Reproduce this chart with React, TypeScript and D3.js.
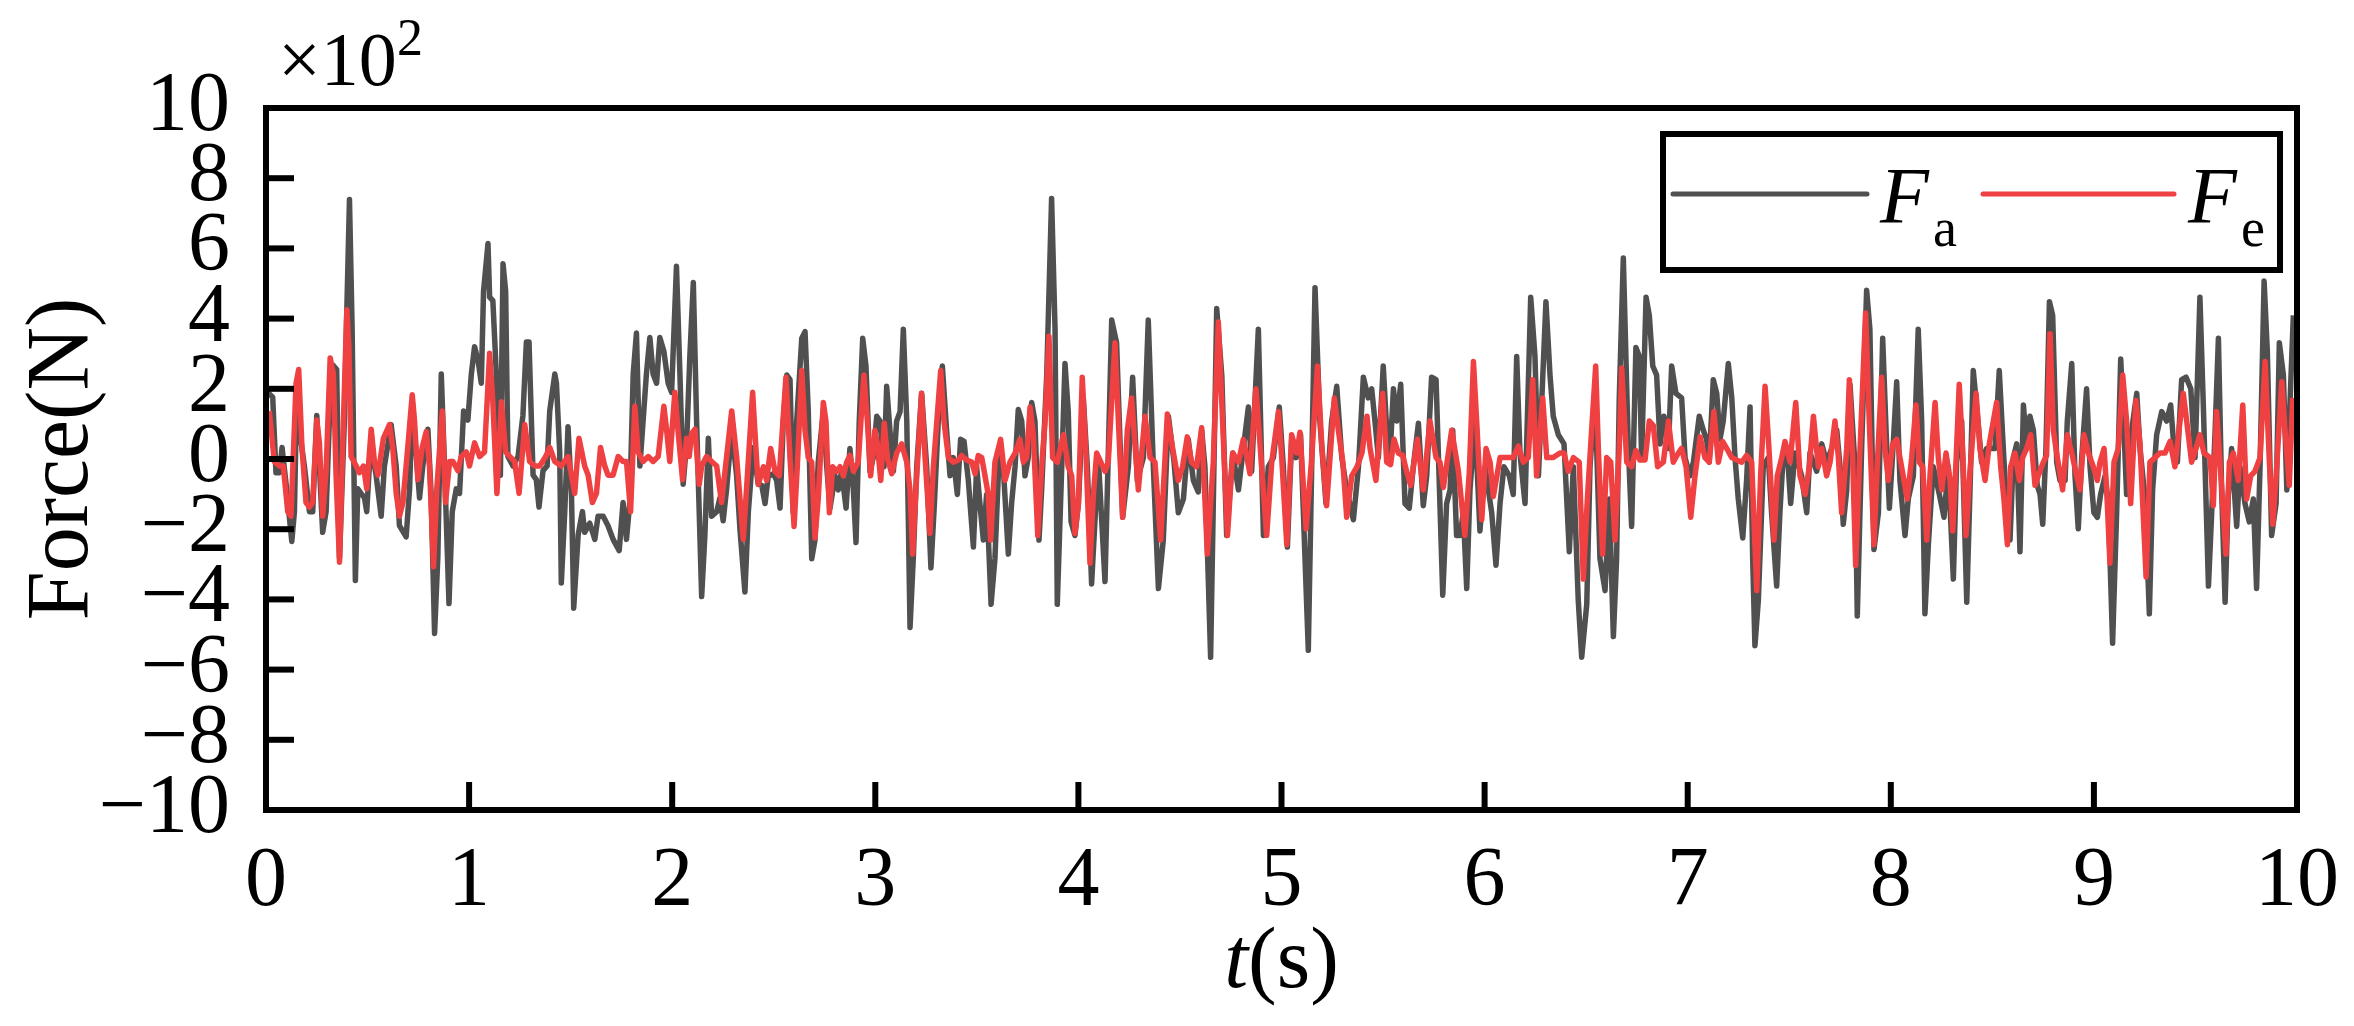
import React from "react";
import * as d3 from "d3";

// time (s), force (x10^2 N) at the turning points
const faData: [number, number][] = [
  [0.008, 1.9], [0.033, 1.76], [0.049, -0.39], [0.066, -0.39], [0.079, 0.33], [0.099, -0.72], [0.127, -2.35], [0.14, -1.5],
  [0.151, 1.76], [0.164, 0.85], [0.189, -0.2], [0.214, -1.5], [0.23, -1.5], [0.25, 1.24], [0.263, -0.2], [0.279, -2.09],
  [0.296, -1.5], [0.312, 1.11], [0.329, 2.68], [0.348, 2.55], [0.362, -2.81], [0.386, 1.11], [0.398, 4.25], [0.411, 7.39],
  [0.424, 3.73], [0.44, -3.46], [0.452, -0.85], [0.468, -0.98], [0.485, -1.11], [0.496, -1.5], [0.509, -0.2], [0.526, 0.07],
  [0.542, -0.46], [0.567, -1.63], [0.583, -0.2], [0.616, 0.98], [0.641, -0.2], [0.657, -1.9], [0.69, -2.22], [0.707, -0.85],
  [0.72, 1.63], [0.74, 0.07], [0.756, -1.11], [0.772, -0.2], [0.797, 0.85], [0.813, -0.98], [0.83, -4.97], [0.846, -2.81],
  [0.863, 2.42], [0.879, -0.2], [0.901, -4.12], [0.917, -1.5], [0.937, -0.85], [0.953, -0.98], [0.973, 1.37], [0.994, 1.11],
  [1.011, 2.42], [1.027, 3.2], [1.044, 2.81], [1.06, 2.16], [1.071, 4.77], [1.093, 6.14], [1.101, 4.61], [1.117, 4.51],
  [1.134, 2.42], [1.154, -0.46], [1.167, 5.56], [1.18, 4.77], [1.191, 0.07], [1.216, -0.2], [1.241, 0.07], [1.265, 1.24],
  [1.282, 3.33], [1.295, 3.33], [1.315, -0.46], [1.331, -0.59], [1.344, -1.37], [1.364, -0.33], [1.384, -0.2], [1.397, 1.37],
  [1.422, 2.42], [1.43, 2.16], [1.446, 0.2], [1.454, -3.53], [1.471, -1.5], [1.487, 0.92], [1.504, -0.98], [1.515, -4.25],
  [1.537, -2.16], [1.558, -1.5], [1.569, -2.09], [1.594, -1.83], [1.619, -2.29], [1.635, -1.63], [1.66, -1.63], [1.684, -1.9],
  [1.709, -2.29], [1.739, -2.61], [1.758, -1.24], [1.775, -2.29], [1.791, -1.24], [1.808, 2.42], [1.824, 3.59], [1.841, -0.2],
  [1.873, 2.42], [1.89, 3.46], [1.906, 2.42], [1.923, 2.16], [1.939, 3.46], [1.959, 3.07], [1.98, 2.16], [1.997, 1.9],
  [2.021, 5.49], [2.038, 2.42], [2.054, -0.72], [2.071, 0.46], [2.087, 2.94], [2.104, 5.03], [2.12, 1.11], [2.145, -3.92],
  [2.161, -2.16], [2.178, 0.59], [2.194, -1.63], [2.219, -1.5], [2.235, -1.11], [2.251, -1.76], [2.268, -0.85], [2.293, 0.85],
  [2.317, -0.46], [2.334, -2.03], [2.358, -3.79], [2.375, -1.5], [2.399, 0.33], [2.424, -0.72], [2.441, -0.75], [2.457, -1.27],
  [2.473, -0.48], [2.498, -0.42], [2.514, -0.61], [2.531, -1.4], [2.547, 1.08], [2.564, 2.39], [2.58, 2.26], [2.596, -1.53],
  [2.613, 1.08], [2.638, 3.44], [2.654, 3.63], [2.67, 1.35], [2.687, -2.84], [2.703, -2.31], [2.719, -0.09], [2.744, 1.35],
  [2.761, -0.22], [2.777, -1.4], [2.802, -0.48], [2.818, -0.88], [2.834, -0.35], [2.856, -1.4], [2.875, 0.3], [2.892, -0.88],
  [2.905, -2.38], [2.921, 1.08], [2.938, 3.44], [2.954, 2.65], [2.974, -0.35], [2.99, 0.04], [3.007, 1.22], [3.023, 1.08],
  [3.043, -0.22], [3.056, 2.07], [3.072, 0.82], [3.089, -0.35], [3.105, 1.08], [3.122, 1.35], [3.138, 3.7], [3.155, 1.08],
  [3.171, -4.8], [3.187, -2.84], [3.204, -0.22], [3.228, 1.87], [3.253, -0.22], [3.274, -3.1], [3.291, -1.27], [3.31, 1.08],
  [3.33, 2.65], [3.351, 0.82], [3.368, -0.48], [3.384, 0.04], [3.404, -1.01], [3.42, 0.56], [3.437, 0.5], [3.458, -0.61],
  [3.483, -2.51], [3.499, -0.22], [3.515, -1.27], [3.532, -2.31], [3.548, -1.01], [3.57, -4.14], [3.589, -2.84], [3.611, 0.3],
  [3.63, -0.22], [3.655, -2.71], [3.671, -1.27], [3.688, -0.22], [3.704, 1.41], [3.721, 1.08], [3.737, -0.48], [3.753, 0.04],
  [3.77, 1.61], [3.786, 1.08], [3.806, -2.31], [3.819, -0.88], [3.844, 2.39], [3.868, 7.42], [3.885, 3.7], [3.896, -4.14],
  [3.918, -0.22], [3.934, 2.72], [3.95, 1.35], [3.964, -1.79], [3.983, -2.18], [4.0, -1.27], [4.024, 1.74], [4.044, -0.22],
  [4.065, -3.56], [4.098, 0.04], [4.131, -3.49], [4.164, 3.96], [4.188, 3.31], [4.218, -1.66], [4.246, -0.22], [4.267, 2.33],
  [4.29, -0.61], [4.32, 0.04], [4.344, 3.96], [4.369, -0.22], [4.394, -3.69], [4.418, -2.31], [4.443, 1.22], [4.471, -0.09],
  [4.492, -1.53], [4.517, -1.14], [4.541, 0.56], [4.566, -0.61], [4.59, -0.94], [4.607, 0.82], [4.623, -0.22], [4.651, -5.65],
  [4.681, 4.29], [4.706, 2.39], [4.73, -2.18], [4.76, 0.17], [4.788, -0.88], [4.812, 0.3], [4.837, 1.48], [4.853, -0.35],
  [4.886, 3.7], [4.911, -2.18], [4.935, -0.22], [4.96, 0.04], [4.989, 1.48], [5.009, -0.22], [5.029, -2.51], [5.05, 0.56],
  [5.071, 0.04], [5.094, 0.69], [5.132, -5.45], [5.165, 4.88], [5.189, 1.08], [5.219, -1.27], [5.247, 1.08], [5.272, 2.07],
  [5.297, 0.04], [5.321, -0.88], [5.354, -1.73], [5.379, -0.22], [5.403, 2.33], [5.427, 1.74], [5.444, 2.0], [5.46, 1.08],
  [5.477, 0.04], [5.501, 2.65], [5.518, 0.82], [5.534, 0.04], [5.551, 2.0], [5.567, 1.08], [5.587, 2.13], [5.608, -1.27],
  [5.629, -1.4], [5.649, -0.22], [5.674, 1.02], [5.698, -1.33], [5.715, -0.48], [5.739, 2.33], [5.761, 2.26], [5.794, -3.88],
  [5.813, -1.27], [5.83, -0.88], [5.843, 0.82], [5.862, -2.18], [5.879, -2.18], [5.895, -1.53], [5.912, -3.69], [5.928, -0.88],
  [5.953, 1.08], [5.977, -2.05], [6.002, -0.22], [6.035, -1.53], [6.056, -3.03], [6.076, -1.27], [6.095, -0.22], [6.122, -0.48],
  [6.141, -1.01], [6.158, 2.92], [6.174, 0.17], [6.199, -1.27], [6.227, 4.61], [6.248, 2.92], [6.265, -0.48], [6.281, 1.61],
  [6.302, 4.48], [6.322, 2.39], [6.338, 1.22], [6.363, 0.69], [6.391, 0.43], [6.417, -2.64], [6.437, -0.22], [6.461, -4.01],
  [6.478, -5.65], [6.503, -4.14], [6.519, -0.22], [6.544, 1.87], [6.568, -2.84], [6.593, -3.75], [6.614, -1.14], [6.634, -5.06],
  [6.65, -2.84], [6.663, 1.74], [6.683, 5.73], [6.707, 0.43], [6.724, -1.92], [6.745, 3.18], [6.762, 2.92], [6.773, 0.04],
  [6.795, 4.61], [6.811, 4.09], [6.828, 2.65], [6.847, 2.39], [6.864, 0.43], [6.883, 1.22], [6.905, 0.3], [6.921, 2.65],
  [6.942, 1.87], [6.97, 1.74], [6.987, 0.04], [7.011, -0.48], [7.028, -0.09], [7.057, 1.22], [7.077, 0.82], [7.093, 0.56],
  [7.106, -0.09], [7.126, 2.26], [7.143, 1.87], [7.159, 0.56], [7.175, 1.08], [7.2, 2.72], [7.217, 1.74], [7.233, 0.04],
  [7.249, -1.14], [7.271, -2.25], [7.29, -0.61], [7.307, 1.48], [7.32, -2.84], [7.331, -5.32], [7.348, -4.01], [7.372, -0.22],
  [7.397, 0.04], [7.413, -1.53], [7.438, -3.62], [7.454, -1.53], [7.471, 0.17], [7.495, -0.22], [7.507, -1.27], [7.528, 0.17],
  [7.561, -0.48], [7.586, -1.53], [7.602, 0.17], [7.635, -0.35], [7.66, 0.43], [7.684, -0.09], [7.709, 0.3], [7.734, 0.82],
  [7.75, -0.22], [7.766, -1.86], [7.783, -0.88], [7.799, 2.13], [7.824, -0.22], [7.835, -4.47], [7.857, 0.43], [7.881, 4.81],
  [7.897, 3.7], [7.917, -2.58], [7.939, -1.53], [7.96, 3.44], [7.98, 0.3], [7.993, -1.4], [8.012, 0.43], [8.029, 2.2],
  [8.045, -0.61], [8.07, -2.18], [8.086, -1.14], [8.111, -0.48], [8.135, 3.7], [8.152, 1.08], [8.168, -4.41], [8.185, -2.44],
  [8.209, -0.22], [8.239, -1.01], [8.262, -1.66], [8.283, -0.22], [8.308, -3.42], [8.324, -0.09], [8.349, 1.08], [8.374, -4.08],
  [8.39, -0.88], [8.406, 2.52], [8.423, 1.48], [8.447, -0.09], [8.472, 0.3], [8.513, 0.3], [8.534, 2.52], [8.554, 0.3],
  [8.571, -1.53], [8.587, -2.31], [8.603, 0.04], [8.62, 0.43], [8.636, -2.64], [8.653, 1.54], [8.669, 0.3], [8.685, 1.22],
  [8.702, 0.82], [8.721, -0.75], [8.735, -1.01], [8.748, -1.86], [8.764, 0.3], [8.781, 4.48], [8.797, 4.09], [8.817, -0.09],
  [8.833, -0.61], [8.858, -0.61], [8.869, 1.08], [8.891, 2.72], [8.907, -0.48], [8.923, -1.99], [8.94, 0.04], [8.964, 2.0],
  [8.981, -0.22], [9.0, -1.53], [9.017, -1.66], [9.033, -1.01], [9.055, -0.48], [9.071, -1.27], [9.092, -5.25], [9.112, -1.53],
  [9.132, 2.85], [9.145, 1.22], [9.161, -1.01], [9.186, 0.82], [9.211, 1.87], [9.227, 0.3], [9.252, -1.14], [9.273, -4.41],
  [9.289, -0.88], [9.309, 0.69], [9.334, 1.35], [9.358, 1.08], [9.378, 1.54], [9.391, 0.56], [9.411, -0.09], [9.432, 2.26],
  [9.454, 2.33], [9.477, 2.0], [9.498, 0.04], [9.522, 4.61], [9.539, 1.48], [9.564, -3.62], [9.58, -1.53], [9.597, 0.82],
  [9.613, 3.44], [9.629, -0.88], [9.646, -4.08], [9.662, -1.01], [9.678, 0.3], [9.703, -1.92], [9.719, -0.22], [9.744, -1.27],
  [9.765, -1.79], [9.785, -1.14], [9.801, -3.69], [9.818, -0.22], [9.838, 5.07], [9.854, 3.05], [9.875, -2.18], [9.897, -1.27],
  [9.913, 3.31], [9.933, 2.39], [9.95, -0.88], [9.969, 2.13], [9.982, 4.09],
];

const feData: [number, number][] = [
  [0.016, 1.37], [0.041, -0.07], [0.066, -0.2], [0.085, -0.2], [0.107, -1.5], [0.123, -1.63], [0.148, 2.16], [0.161, 2.55],
  [0.177, 0.33], [0.197, -1.24], [0.214, -1.37], [0.23, -1.24], [0.25, 1.11], [0.263, 0.46], [0.279, -1.63], [0.296, -0.33],
  [0.316, 2.88], [0.332, 2.42], [0.345, -0.46], [0.362, -2.94], [0.378, 0.46], [0.398, 4.25], [0.408, 3.2], [0.419, 0.07],
  [0.444, -0.2], [0.46, -0.39], [0.48, -0.2], [0.496, -0.85], [0.518, 0.85], [0.534, -0.07], [0.551, -0.46], [0.578, 0.59],
  [0.608, 0.98], [0.624, 0.33], [0.641, -0.98], [0.657, -1.63], [0.674, -1.24], [0.698, 0.33], [0.72, 1.83], [0.731, 1.11],
  [0.748, -0.59], [0.769, 0.33], [0.789, 0.78], [0.805, -0.2], [0.825, -3.07], [0.841, -0.85], [0.868, 1.37], [0.884, -1.24],
  [0.904, -0.07], [0.92, -0.07], [0.945, -0.33], [0.961, 0.07], [0.986, 0.2], [1.002, -0.2], [1.027, 0.46], [1.052, 0.07],
  [1.076, 0.2], [1.101, 3.01], [1.117, 1.63], [1.137, -0.98], [1.159, 1.63], [1.18, 0.2], [1.2, 0.07], [1.224, -0.07],
  [1.246, -0.98], [1.274, 0.98], [1.298, -0.07], [1.323, -0.2], [1.348, -0.2], [1.377, 0.07], [1.397, 0.33], [1.422, -0.07],
  [1.454, -0.2], [1.487, 0.07], [1.52, -0.98], [1.541, 0.59], [1.569, -0.2], [1.586, -0.46], [1.607, -1.24], [1.627, -0.98],
  [1.647, 0.33], [1.668, -0.2], [1.684, -0.46], [1.709, -0.46], [1.734, 0.07], [1.758, -0.07], [1.775, -0.07], [1.795, -1.5],
  [1.816, 1.5], [1.832, 0.2], [1.857, -0.07], [1.882, 0.07], [1.906, -0.07], [1.931, 0.07], [1.959, 1.5], [1.972, 0.85],
  [1.988, -0.07], [2.013, 1.9], [2.03, 0.72], [2.051, -0.59], [2.071, 0.59], [2.084, 0.07], [2.095, 0.72], [2.112, 0.85],
  [2.133, -0.72], [2.145, -0.2], [2.169, 0.07], [2.194, -0.07], [2.219, -0.2], [2.243, -1.24], [2.268, 0.07], [2.293, 1.37],
  [2.317, 0.07], [2.35, -2.29], [2.366, -0.85], [2.396, 1.9], [2.416, -0.07], [2.424, -0.72], [2.449, -0.22], [2.465, -0.61],
  [2.485, 0.3], [2.506, -0.35], [2.527, -0.48], [2.56, 2.33], [2.58, 0.04], [2.6, -1.92], [2.616, -0.22], [2.638, 2.52],
  [2.654, 0.82], [2.67, 0.04], [2.687, -0.09], [2.703, -2.25], [2.719, -1.14], [2.744, 1.61], [2.757, 1.08], [2.774, -1.53],
  [2.79, -0.22], [2.81, -0.35], [2.826, -0.22], [2.843, -0.48], [2.859, -0.09], [2.875, 0.1], [2.892, -0.35], [2.916, -0.09],
  [2.944, 2.39], [2.961, 1.08], [2.977, -0.48], [2.998, 0.82], [3.01, 0.43], [3.027, -0.61], [3.044, 1.02], [3.059, 0.04],
  [3.081, -0.42], [3.105, 0.17], [3.13, 0.43], [3.155, -0.09], [3.171, -0.88], [3.184, -2.71], [3.2, -0.88], [3.228, 1.87],
  [3.245, 0.04], [3.269, -2.12], [3.286, -0.22], [3.322, 2.52], [3.338, 1.08], [3.36, 0.04], [3.384, -0.09], [3.409, -0.03],
  [3.425, 0.1], [3.45, -0.03], [3.475, -0.09], [3.491, -0.42], [3.507, 0.1], [3.524, 0.04], [3.54, -0.48], [3.556, -1.01],
  [3.568, -2.31], [3.589, -0.09], [3.617, 0.56], [3.639, -0.61], [3.663, -0.09], [3.688, 0.17], [3.712, 0.56], [3.729, -0.09],
  [3.745, 0.04], [3.762, 1.48], [3.778, 0.69], [3.8, -2.18], [3.819, -0.22], [3.836, 1.08], [3.855, 3.5], [3.873, 0.04],
  [3.896, -0.09], [3.926, 0.69], [3.95, -0.22], [3.967, -0.48], [3.983, -2.12], [4.0, -1.27], [4.019, 2.33], [4.038, 0.04],
  [4.057, -2.97], [4.074, -1.01], [4.09, 0.17], [4.131, -0.35], [4.147, -0.09], [4.18, 3.31], [4.197, 1.08], [4.218, -1.66],
  [4.241, 0.82], [4.262, 1.74], [4.295, -0.88], [4.328, 1.22], [4.353, 0.04], [4.377, -0.09], [4.405, -2.31], [4.438, 1.28],
  [4.464, 0.3], [4.492, -0.61], [4.513, -0.22], [4.536, 0.63], [4.557, -0.09], [4.582, -0.22], [4.607, 0.89], [4.635, -2.71],
  [4.664, -0.09], [4.689, 3.9], [4.71, 1.08], [4.734, -2.18], [4.76, 0.17], [4.788, -0.09], [4.812, 0.56], [4.845, -0.42],
  [4.874, 2.0], [4.894, 0.43], [4.927, -2.18], [4.952, -0.09], [4.985, 1.35], [5.001, 0.04], [5.026, -2.44], [5.05, 0.69],
  [5.075, 0.17], [5.091, 0.76], [5.121, -1.99], [5.149, 0.04], [5.177, 2.65], [5.198, 0.43], [5.222, -1.33], [5.26, 1.74],
  [5.28, 0.82], [5.302, -0.09], [5.321, -1.66], [5.346, -0.48], [5.372, -0.22], [5.396, 0.17], [5.421, 1.22], [5.436, 0.3],
  [5.465, -0.61], [5.498, 1.87], [5.518, -0.09], [5.537, -0.16], [5.554, 0.56], [5.575, 0.17], [5.597, 0.1], [5.616, -0.35],
  [5.636, -0.75], [5.669, 0.56], [5.698, -0.88], [5.731, 1.08], [5.761, 0.04], [5.78, -0.09], [5.797, -0.81], [5.838, 0.82],
  [5.871, -0.35], [5.903, -2.18], [5.925, -0.35], [5.945, 2.78], [5.961, 1.08], [5.986, -1.73], [6.007, 0.3], [6.027, -0.09],
  [6.043, -1.07], [6.076, 0.04], [6.109, 0.04], [6.141, 0.04], [6.166, 0.37], [6.191, -0.09], [6.215, 0.04], [6.237, 2.26],
  [6.256, -0.48], [6.286, 1.74], [6.306, 0.04], [6.338, 0.04], [6.371, 0.17], [6.391, 0.17], [6.412, -0.35], [6.437, 0.04],
  [6.466, -0.09], [6.486, -3.42], [6.506, -1.14], [6.527, 0.82], [6.547, 2.65], [6.56, 0.3], [6.581, -2.71], [6.601, 0.04],
  [6.621, -0.09], [6.642, -2.31], [6.663, 0.3], [6.675, 2.59], [6.7, -0.09], [6.724, -0.22], [6.745, 0.24], [6.765, -0.03],
  [6.79, -0.03], [6.811, 1.08], [6.831, 0.95], [6.852, -0.22], [6.88, -0.09], [6.905, 1.08], [6.929, -0.09], [6.954, 0.17],
  [6.97, 0.3], [6.992, -0.22], [7.015, -1.66], [7.036, -0.48], [7.061, 0.63], [7.085, 0.04], [7.106, -0.09], [7.129, 1.35],
  [7.151, -0.09], [7.172, 0.5], [7.192, 0.3], [7.217, 0.04], [7.241, -0.03], [7.266, -0.09], [7.29, 0.1], [7.315, -0.09],
  [7.34, -3.75], [7.359, -0.48], [7.381, 2.07], [7.4, 0.3], [7.425, -2.31], [7.441, -0.48], [7.463, 0.04], [7.479, 0.5],
  [7.504, -0.09], [7.532, 1.61], [7.553, -0.48], [7.578, -1.01], [7.599, -0.22], [7.619, 1.22], [7.643, -0.22], [7.66, 0.3],
  [7.684, -0.48], [7.701, -0.09], [7.725, 1.08], [7.742, 0.04], [7.758, -1.53], [7.783, 0.3], [7.796, 2.26], [7.812, 0.04],
  [7.827, -3.03], [7.845, -0.22], [7.876, 4.16], [7.894, 1.08], [7.917, -2.44], [7.933, -0.22], [7.955, 2.33], [7.971, 0.3],
  [7.988, -0.61], [8.009, 0.43], [8.029, 0.56], [8.053, -0.22], [8.081, -1.14], [8.103, 0.04], [8.124, 1.54], [8.14, -0.09],
  [8.157, -0.22], [8.177, -2.31], [8.193, -0.48], [8.218, 1.61], [8.234, 0.04], [8.251, -0.88], [8.272, 0.17], [8.292, -0.61],
  [8.305, -2.05], [8.321, -0.09], [8.337, 2.13], [8.354, 0.17], [8.37, -2.18], [8.39, -0.35], [8.42, 1.87], [8.439, 0.3],
  [8.464, -0.61], [8.485, 0.43], [8.521, 1.61], [8.541, -0.22], [8.557, -1.14], [8.574, -2.44], [8.59, -0.22], [8.611, 0.17],
  [8.633, -0.61], [8.649, 0.04], [8.669, 0.3], [8.689, 0.69], [8.71, -0.75], [8.726, -0.48], [8.751, -0.09], [8.767, 0.1],
  [8.784, 3.57], [8.8, 0.82], [8.82, 0.04], [8.846, -0.88], [8.869, 0.69], [8.891, 0.17], [8.915, -0.48], [8.932, -0.88],
  [8.951, 0.69], [8.973, 0.17], [8.997, -0.22], [9.017, -0.61], [9.03, -0.09], [9.05, 0.3], [9.063, -0.88], [9.079, -2.97],
  [9.099, -0.09], [9.12, 0.3], [9.142, 2.39], [9.161, 1.08], [9.181, -1.27], [9.207, 1.67], [9.227, 0.43], [9.257, -3.36],
  [9.276, -0.09], [9.301, 0.04], [9.325, 0.17], [9.35, 0.17], [9.375, 0.5], [9.399, -0.22], [9.424, 1.08], [9.44, 1.87],
  [9.457, 1.08], [9.481, -0.09], [9.503, 0.3], [9.522, 0.69], [9.542, 0.17], [9.572, 0.04], [9.588, -1.33], [9.604, 1.35],
  [9.621, -0.09], [9.65, -2.71], [9.667, -0.09], [9.686, 0.17], [9.711, -0.61], [9.733, 1.54], [9.752, -1.14], [9.772, -0.48],
  [9.793, -0.35], [9.818, 0.04], [9.843, 2.78], [9.864, -0.09], [9.881, -1.86], [9.9, -0.22], [9.925, 2.2], [9.941, 0.82],
  [9.962, -0.75], [9.979, 1.74],
];

const xTicks = [0, 1, 2, 3, 4, 5, 6, 7, 8, 9, 10];
const yTicks = [-10, -8, -6, -4, -2, 0, 2, 4, 6, 8, 10];

const W = 2354;
const H = 1026;
const left = 266;
const right = 2297;
const top = 108;
const bottom = 810;

const GRAY = "#505050";
const RED = "#ef4042";
const FONT = "'Liberation Serif', 'DejaVu Serif', serif";

const fmt = (v: number) => (v < 0 ? "\u2212" + Math.abs(v) : String(v));

export default function App() {
  const x = d3.scaleLinear().domain([0, 10]).range([left, right]);
  const y = d3.scaleLinear().domain([-10, 10]).range([bottom, top]);

  const line = d3
    .line<[number, number]>()
    .x((d) => x(d[0]))
    .y((d) => y(d[1]));

  return (
    <svg
      width={W}
      height={H}
      style={{ position: "absolute", left: 0, top: 0, display: "block", background: "#fff" }}
      fontFamily={FONT}
    >
      <path d={line(faData) || ""} fill="none" stroke={GRAY} strokeWidth={5.5} strokeLinejoin="round" />
      <path d={line(feData) || ""} fill="none" stroke={RED} strokeWidth={5.5} strokeLinejoin="round" />

      {/* ticks, pointing inward */}
      {xTicks.slice(1, -1).map((t) => (
        <line key={"xt" + t} x1={x(t)} x2={x(t)} y1={bottom} y2={bottom - 28} stroke="#000" strokeWidth={6} />
      ))}
      {yTicks.slice(1, -1).map((t) => (
        <line key={"yt" + t} x1={left} x2={left + 28} y1={y(t)} y2={y(t)} stroke="#000" strokeWidth={6} />
      ))}

      <rect x={left} y={top} width={right - left} height={bottom - top} fill="none" stroke="#000" strokeWidth={6} />

      {xTicks.map((t) => (
        <text key={"xl" + t} x={x(t)} y={905} textAnchor="middle" fontSize={84}>
          {fmt(t)}
        </text>
      ))}
      {yTicks.map((t) => (
        <text key={"yl" + t} x={230} y={y(t) + 22} textAnchor="end" fontSize={84}>
          {fmt(t)}
        </text>
      ))}

      <text x={278} y={85} fontSize={76}>
        {"\u00d710"}
        <tspan dy={-30} fontSize={52}>2</tspan>
      </text>

      <text x={(left + right) / 2} y={987} textAnchor="middle" fontSize={86}>
        <tspan fontStyle="italic">t</tspan>(s)
      </text>

      <text
        transform={`translate(57, ${(top + bottom) / 2}) rotate(-90)`}
        textAnchor="middle"
        dominantBaseline="central"
        fontSize={88}
      >
        Force(N)
      </text>

      {/* legend */}
      <rect x={1663} y={134} width={617} height={136} fill="#fff" stroke="#000" strokeWidth={6} />
      <line x1={1673} x2={1867} y1={194} y2={194} stroke={GRAY} strokeWidth={5} strokeLinecap="round" />
      <text x={1880} y={223} fontSize={80}>
        <tspan fontStyle="italic">F</tspan>
        <tspan dx={4} dy={23} fontSize={54}>a</tspan>
      </text>
      <line x1={1983} x2={2174} y1={194} y2={194} stroke={RED} strokeWidth={5} strokeLinecap="round" />
      <text x={2188} y={223} fontSize={80}>
        <tspan fontStyle="italic">F</tspan>
        <tspan dx={4} dy={23} fontSize={54}>e</tspan>
      </text>
    </svg>
  );
}
